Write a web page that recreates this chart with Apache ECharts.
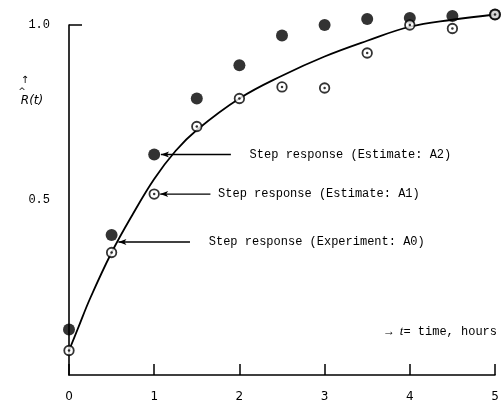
<!DOCTYPE html>
<html>
<head>
<meta charset="utf-8">
<script src="https://cdn.jsdelivr.net/npm/echarts@6/dist/echarts.min.js"></script>
<style>
  html, body { margin: 0; padding: 0; background: #fff; }
  #chart { width: 504px; height: 403px; }
</style>
</head>
<body>
<div id="chart"></div>
<script>
// Time points (hours) where the step responses were sampled
const tSamples = [0, 0.5, 1, 1.5, 2, 2.5, 3, 3.5, 4, 4.5, 5];
// Step response, Estimate A2 (filled dots)
const estimateA2 = [0.13, 0.40, 0.63, 0.79, 0.885, 0.97, 1.0, 1.017, 1.02, 1.026, 1.03];
// Step response, Estimate A1 (open dotted circles)
const estimateA1 = [0.07, 0.35, 0.517, 0.71, 0.79, 0.823, 0.82, 0.92, 1.0, 0.99, 1.03];
// Step response, Experiment A0 (smooth curve)
const curveT = [0, 0.1, 0.25, 0.5, 0.75, 1, 1.25, 1.5, 2, 2.5, 3, 3.5, 4, 4.5, 5];
const experimentA0 = [0.07, 0.13, 0.22, 0.35, 0.46, 0.56, 0.64, 0.70, 0.79, 0.855, 0.91, 0.955, 0.995, 1.015, 1.03];
// Axis labels
const xTicks = [0, 1, 2, 3, 4, 5];
const yLabelValues = [0.5, 1.0];

// Annotation arrows: target point, tail position, caption position, caption
const notes = [
  { head: [1.08, 0.63], tail: 1.9, textT: 2.12, text: 'Step response (Estimate: A2)' },
  { head: [1.07, 0.517], tail: 1.66, textT: 1.75, text: 'Step response (Estimate: A1)' },
  { head: [0.58, 0.38], tail: 1.42, textT: 1.64, text: 'Step response (Experiment: A0)' }
];

const zip = (xs, ys) => xs.map((x, i) => [x, ys[i]]);
const mono = '"Liberation Mono", "DejaVu Sans Mono", monospace';

const chart = echarts.init(document.getElementById('chart'));
chart.setOption({
  animation: false,
  backgroundColor: '#fff',
  grid: { left: 69, right: 9, top: 25, bottom: 28 },
  xAxis: {
    type: 'value', min: 0, max: 5, interval: 1,
    axisLine: { show: true, lineStyle: { color: '#000', width: 1.6 } },
    axisTick: { show: true, inside: true, length: 11, lineStyle: { color: '#000', width: 1.5 } },
    axisLabel: { color: '#000', fontSize: 12, margin: 16, fontFamily: 'DejaVu Sans',
                 formatter: v => xTicks.includes(v) ? String(v) : '' },
    splitLine: { show: false }
  },
  yAxis: {
    type: 'value', min: 0, max: 1,
    axisLine: { show: true, lineStyle: { color: '#000', width: 1.6 } },
    axisTick: { show: true, inside: true, length: 13, customValues: [1.0],
                lineStyle: { color: '#000', width: 1.5 } },
    axisLabel: { color: '#000', fontSize: 12, margin: 19, fontFamily: mono,
                 customValues: yLabelValues, formatter: v => v.toFixed(1) },
    splitLine: { show: false }
  },
  series: [
    {
      name: 'A0', type: 'line', smooth: 0.4, showSymbol: false, clip: false,
      data: zip(curveT, experimentA0),
      lineStyle: { color: '#000', width: 1.8 }, z: 2
    },
    {
      name: 'A2', type: 'scatter', clip: false, symbol: 'circle', symbolSize: 12,
      data: zip(tSamples, estimateA2),
      itemStyle: { color: '#000' }, z: 3
    },
    {
      name: 'A1', type: 'scatter', clip: false, symbol: 'circle', symbolSize: 9.5,
      data: zip(tSamples, estimateA1),
      itemStyle: { color: '#fff', borderColor: '#000', borderWidth: 1.8 }, z: 4
    },
    {
      name: 'A1 centre', type: 'scatter', clip: false, symbol: 'circle', symbolSize: 2.5,
      data: zip(tSamples, estimateA1),
      itemStyle: { color: '#000' }, z: 5
    }
  ]
});

// Annotation arrows and captions, positioned from data coordinates
const g = [];
notes.forEach(n => {
  const h = chart.convertToPixel({ gridIndex: 0 }, n.head);
  const tl = chart.convertToPixel({ gridIndex: 0 }, [n.tail, n.head[1]]);
  const tx = chart.convertToPixel({ gridIndex: 0 }, [n.textT, n.head[1]]);
  g.push({ type: 'line', shape: { x1: tl[0], y1: h[1], x2: h[0], y2: h[1] },
           style: { stroke: '#000', lineWidth: 1.3 } });
  g.push({ type: 'polygon', shape: { points: [[h[0], h[1]], [h[0] + 8, h[1] - 3], [h[0] + 6, h[1]], [h[0] + 8, h[1] + 3]] },
           style: { fill: '#000' } });
  g.push({ type: 'text', x: tx[0], y: h[1], style: { text: n.text, font: '12px ' + mono, fill: '#000',
           verticalAlign: 'middle', align: 'left' } });
});

// Axis caption for time
const tc = chart.convertToPixel({ gridIndex: 0 }, [5, 0.123]);
g.push({ type: 'text', x: tc[0] + 2, y: tc[1], style: {
  rich: {
    a: { font: '12px ' + mono, fill: '#000' },
    i: { font: 'italic 13px "Liberation Serif", serif', fill: '#000' }
  },
  text: '{a|→ }{i|t}{a|= time, hours}', align: 'right', verticalAlign: 'middle' } });

// Axis caption for R-hat(t)
g.push({ type: 'text', x: 25, y: 80, style: { text: '↑', font: '10px "DejaVu Sans"', fill: '#000',
         align: 'center', verticalAlign: 'middle' } });
g.push({ type: 'text', x: 22, y: 92, style: { text: '^', font: '9px "DejaVu Sans"', fill: '#000',
         align: 'center', verticalAlign: 'middle' } });
g.push({ type: 'text', x: 32, y: 101, style: { text: 'R(t)', font: 'italic 12px "DejaVu Sans"', fill: '#000',
         align: 'center', verticalAlign: 'middle' } });

chart.setOption({ graphic: g });
</script>
</body>
</html>
